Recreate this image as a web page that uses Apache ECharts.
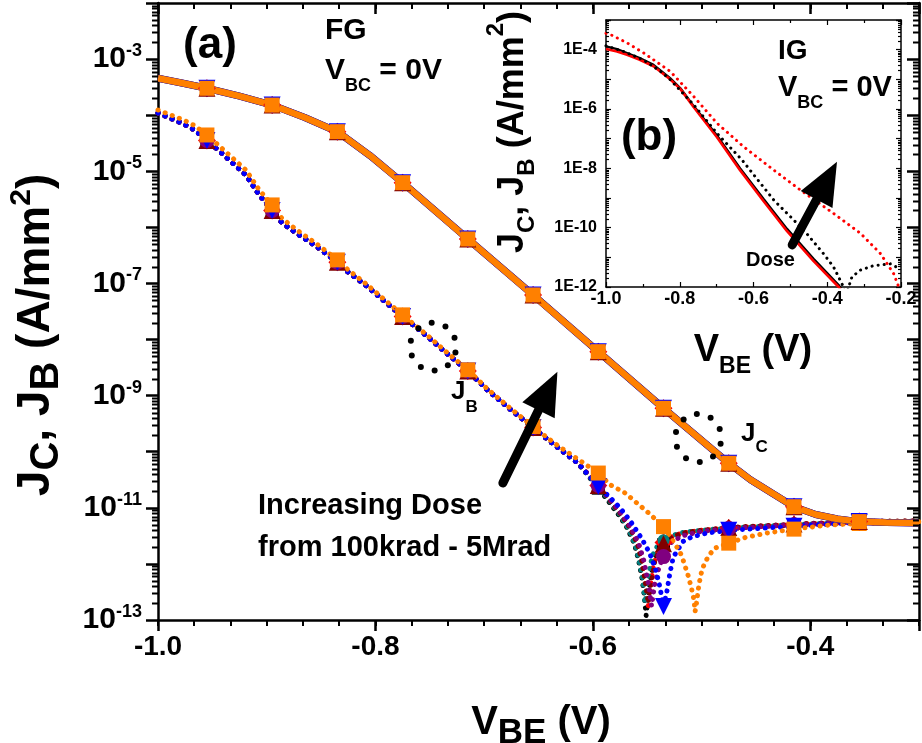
<!DOCTYPE html>
<html>
<head>
<meta charset="utf-8">
<script src="https://cdn.jsdelivr.net/npm/echarts@6/dist/echarts.min.js"></script>
<style>
html, body { margin: 0; padding: 0; background: #fff; }
#chart { width: 922px; height: 743px; }
</style>
</head>
<body>
<div id="chart"></div>
<script>
const FONT = "'Liberation Sans', Arial, Helvetica, sans-serif";

// ---------- Panel (a): forward Gummel, V_BC = 0 V ----------
// V_BE positions that carry a symbol
const markerVbe = [-0.955, -0.895, -0.835, -0.775, -0.715, -0.655, -0.595, -0.535, -0.475, -0.415, -0.355];

// Collector current density J_C, stored as log10(A/mm^2)
const jcVbe = [-1.0, -0.977, -0.955, -0.925, -0.895, -0.865, -0.835, -0.805, -0.775, -0.715, -0.655, -0.595,
  -0.535, -0.475, -0.455, -0.435, -0.415, -0.395, -0.375, -0.355, -0.33, -0.3];
const jcLog = [-3.342, -3.43, -3.52, -3.66, -3.82, -4.04, -4.294, -4.72, -5.203, -6.207, -7.205, -8.216,
  -9.225, -10.205, -10.5, -10.74, -10.98, -11.12, -11.2, -11.246, -11.26, -11.27];

// Base current density J_B, common high-bias part (log10 A/mm^2)
const jbVbeUpper = [-1.0, -0.989, -0.977, -0.966, -0.955, -0.943, -0.931, -0.919, -0.907, -0.895, -0.886, -0.870,
  -0.855, -0.835, -0.825, -0.809, -0.794, -0.775, -0.752, -0.736, -0.715, -0.697, -0.675, -0.655, -0.636, -0.614];
const jbLogUpperTop = [-3.907, -3.99, -4.08, -4.19, -4.353, -4.56, -4.77, -4.98, -5.33, -5.60, -5.84, -6.08,
  -6.28, -6.58, -6.76, -7.0, -7.25, -7.56, -7.93, -8.2, -8.54, -8.88, -9.24, -9.55, -9.84, -10.13];
const jbLogUpperUnder = [-3.96, -4.05, -4.15, -4.27, -4.45, -4.65, -4.86, -5.07, -5.42, -5.70, -5.92, -6.14,
  -6.33, -6.62, -6.8, -7.03, -7.28, -7.59, -7.95, -8.22, -8.56, -8.9, -9.26, -9.57, -9.87, -10.2];

// Base current density, low-bias part for each dose (log10 A/mm^2)
const jbTailVbeBlack = [-0.595, -0.585, -0.575, -0.569, -0.562, -0.558, -0.555, -0.553, -0.551, -0.549, -0.546, -0.543,
  -0.538, -0.535, -0.525, -0.515, -0.500, -0.475, -0.445, -0.415, -0.385, -0.355, -0.300];
const jbTailLogBlack = [-10.65, -10.90, -11.16, -11.34, -11.63, -11.93, -12.23, -12.52, -12.92, -12.55, -12.15, -11.88,
  -11.72, -11.66, -11.52, -11.46, -11.41, -11.37, -11.33, -11.31, -11.28, -11.26, -11.25];

const jbTailVbeTeal = [-0.595, -0.585, -0.575, -0.567, -0.561, -0.557, -0.554, -0.552, -0.550, -0.547, -0.544, -0.540,
  -0.535, -0.528, -0.518, -0.500, -0.475, -0.415, -0.355, -0.300];
const jbTailLogTeal = [-10.63, -10.87, -11.13, -11.38, -11.66, -11.98, -12.30, -12.70, -12.40, -12.00, -11.80, -11.66,
  -11.58, -11.50, -11.44, -11.40, -11.36, -11.30, -11.25, -11.24];

const jbTailVbeRed = [-0.595, -0.585, -0.575, -0.566, -0.559, -0.555, -0.552, -0.549, -0.547, -0.544, -0.540, -0.535,
  -0.528, -0.518, -0.500, -0.475, -0.415, -0.355, -0.300];
const jbTailLogRed = [-10.60, -10.84, -11.10, -11.36, -11.66, -11.97, -12.35, -12.75, -12.40, -12.00, -11.75, -11.62,
  -11.52, -11.45, -11.40, -11.36, -11.30, -11.25, -11.24];

const jbTailVbeMaroon = [-0.595, -0.585, -0.575, -0.566, -0.559, -0.555, -0.552, -0.549, -0.546, -0.543, -0.539, -0.535,
  -0.528, -0.518, -0.500, -0.475, -0.415, -0.355, -0.300];
const jbTailLogMaroon = [-10.60, -10.85, -11.10, -11.35, -11.64, -11.95, -12.30, -12.70, -12.30, -11.95, -11.75, -11.64,
  -11.53, -11.45, -11.40, -11.35, -11.29, -11.24, -11.23];

const jbTailVbePurple = [-0.595, -0.585, -0.575, -0.566, -0.558, -0.553, -0.549, -0.546, -0.543, -0.539, -0.535, -0.528,
  -0.518, -0.500, -0.475, -0.415, -0.355, -0.300];
const jbTailLogPurple = [-10.60, -10.83, -11.07, -11.32, -11.62, -11.95, -12.35, -12.75, -12.35, -12.05, -11.87, -11.62,
  -11.50, -11.42, -11.37, -11.30, -11.25, -11.24];

const jbTailVbeBlue = [-0.595, -0.585, -0.575, -0.565, -0.555, -0.548, -0.543, -0.539, -0.535, -0.532, -0.529, -0.526,
  -0.521, -0.517, -0.509, -0.495, -0.475, -0.415, -0.355, -0.300];
const jbTailLogBlue = [-10.62, -10.80, -11.00, -11.25, -11.55, -11.80, -12.05, -12.35, -12.76, -12.50, -12.15, -11.88,
  -11.72, -11.60, -11.52, -11.45, -11.40, -11.33, -11.26, -11.25];

const jbTailVbeOrange = [-0.595, -0.584, -0.570, -0.561, -0.550, -0.535, -0.526, -0.520, -0.517, -0.512, -0.509, -0.507,
  -0.506, -0.505, -0.503, -0.501, -0.499, -0.494, -0.488, -0.475, -0.460, -0.440, -0.415, -0.385, -0.355, -0.300];
const jbTailLogOrange = [-10.38, -10.59, -10.74, -10.89, -11.07, -11.335, -11.60, -11.78, -11.93, -12.23, -12.46, -12.64,
  -12.85, -12.75, -12.45, -12.22, -12.07, -11.87, -11.72, -11.63, -11.53, -11.45, -11.38, -11.31, -11.28, -11.25];

// ---------- Panel (b): inset, V_BC = 0 V (log10 A/mm^2) ----------
const insetVbeSolidBlack = [-1.0, -0.97, -0.943, -0.91, -0.871, -0.826, -0.798, -0.762, -0.699, -0.636, -0.573, -0.509, -0.437, -0.369, -0.355];
const insetLogSolidBlack = [-3.89, -3.98, -4.11, -4.27, -4.51, -4.96, -5.30, -5.90, -6.89, -8.00, -9.02, -10.04, -11.05, -11.93, -12.2];
const insetVbeSolidRed = [-1.0, -0.97, -0.943, -0.91, -0.871, -0.826, -0.798, -0.762, -0.699, -0.636, -0.573, -0.509, -0.437, -0.369, -0.355];
const insetLogSolidRed = [-3.98, -4.06, -4.17, -4.33, -4.56, -5.0, -5.33, -5.94, -6.95, -8.07, -9.1, -10.12, -11.13, -12.0, -12.25];
const insetVbeDotBlack = [-1.0, -0.95, -0.898, -0.85, -0.826, -0.762, -0.699, -0.631, -0.545, -0.491, -0.455, -0.410,
  -0.383, -0.365, -0.356, -0.350, -0.342, -0.333, -0.310, -0.274, -0.229, -0.202];
const insetLogDotBlack = [-3.87, -4.07, -4.35, -4.75, -5.01, -5.86, -6.82, -7.72, -9.07, -9.74, -10.21, -10.88,
  -11.32, -11.77, -12.0, -12.4, -12.0, -11.66, -11.43, -11.28, -11.22, -11.39];
const insetVbeDotRed = [-1.0, -0.988, -0.943, -0.898, -0.826, -0.762, -0.699, -0.627, -0.545, -0.473, -0.383, -0.310, -0.256, -0.220, -0.206, -0.200];
const insetLogDotRed = [-3.45, -3.49, -3.77, -4.11, -4.73, -5.58, -6.48, -7.27, -8.06, -8.73, -9.52, -10.19, -10.87, -11.55, -12.0, -12.4];

// Annotation anchors in data units: [V_BE, log10 J]
const mainArrow = [-0.6844, -10.622, -0.6326, -8.572];
const insetArrow = [-0.5002, -10.70, -0.3736, -7.775];
const ringJB = [-0.7469, -8.127];
const ringJC = [-0.503, -9.754];

// ---------- helpers ----------
const toPairs = (v, logs) => v.map((x, i) => [x, Math.pow(10, logs[i])]);
const isMarker = x => markerVbe.some(m => Math.abs(m - x) < 1e-6);

const doses = [
  { color: '#000000', symbol: 'rect',     size: 13, rotate: 0,   jcWidth: 5.5, upper: jbLogUpperUnder, tv: jbTailVbeBlack,  tl: jbTailLogBlack },
  { color: '#ff0000', symbol: 'diamond',  size: 18, rotate: 0,   jcWidth: 5.5, upper: jbLogUpperUnder, tv: jbTailVbeRed,    tl: jbTailLogRed },
  { color: '#008080', symbol: 'circle',   size: 12, rotate: 0,   jcWidth: 5.5, upper: jbLogUpperUnder, tv: jbTailVbeTeal,   tl: jbTailLogTeal },
  { color: '#800000', symbol: 'triangle', size: 17, rotate: 0,   jcWidth: 5.5, upper: jbLogUpperUnder, tv: jbTailVbeMaroon, tl: jbTailLogMaroon },
  { color: '#800080', symbol: 'circle',   size: 15, rotate: 0,   jcWidth: 7,   upper: jbLogUpperUnder, tv: jbTailVbePurple, tl: jbTailLogPurple },
  { color: '#1a1aa0', symbol: 'triangle', size: 17, rotate: 180, jcWidth: 7,   upper: jbLogUpperUnder, tv: jbTailVbeBlue,   tl: jbTailLogBlue },
  { color: '#ff8000', symbol: 'rect',     size: 15, rotate: 0,   jcWidth: 6.5, upper: jbLogUpperTop,   tv: jbTailVbeOrange, tl: jbTailLogOrange }
];
// J_B dots/markers of the blue dose use pure blue; its J_C line is drawn in a darker navy
const jbColorOverride = { 5: '#0000ff' };

const series = [];

// J_B: dotted curves with symbols
doses.forEach((d, i) => {
  const c = jbColorOverride[i] || d.color;
  series.push({
    type: 'line', xAxisIndex: 0, yAxisIndex: 0, z: 2,
    data: toPairs(jbVbeUpper.concat(d.tv), d.upper.concat(d.tl)),
    lineStyle: { color: c, width: 5, type: [0.1, 7.5], cap: 'round' },
    itemStyle: { color: c },
    symbol: v => (isMarker(v[0]) ? d.symbol : 'none'),
    symbolSize: d.size, symbolRotate: d.rotate, showAllSymbol: true,
    silent: true, animation: false
  });
});
// J_C: solid curves with symbols
doses.forEach((d, i) => {
  const c = jbColorOverride[i] || d.color;
  series.push({
    type: 'line', xAxisIndex: 0, yAxisIndex: 0, z: 3,
    data: toPairs(jcVbe, jcLog),
    lineStyle: { color: d.color, width: d.jcWidth },
    itemStyle: { color: c },
    symbol: v => (isMarker(v[0]) ? d.symbol : 'none'),
    symbolSize: d.size, symbolRotate: d.rotate, showAllSymbol: true,
    silent: true, animation: false
  });
});

// Inset curves
series.push(
  { type: 'line', xAxisIndex: 4, yAxisIndex: 2, symbol: 'none', silent: true, animation: false,
    data: toPairs(insetVbeSolidBlack, insetLogSolidBlack), lineStyle: { color: '#000', width: 2.2 } },
  { type: 'line', xAxisIndex: 4, yAxisIndex: 2, symbol: 'none', silent: true, animation: false,
    data: toPairs(insetVbeSolidRed, insetLogSolidRed), lineStyle: { color: '#ff0000', width: 2.6 } },
  { type: 'line', xAxisIndex: 4, yAxisIndex: 2, symbol: 'none', silent: true, animation: false,
    data: toPairs(insetVbeDotBlack, insetLogDotBlack), lineStyle: { color: '#000', width: 3, type: [0.1, 6], cap: 'round' } },
  { type: 'line', xAxisIndex: 4, yAxisIndex: 2, symbol: 'none', silent: true, animation: false,
    data: toPairs(insetVbeDotRed, insetLogDotRed), lineStyle: { color: '#ff0000', width: 3, type: [0.1, 6], cap: 'round' } }
);

// Logarithmic minor ticks (2..9 x 10^e) drawn against the y scales
function logMinorTicks(xIdx, yIdx, eFrom, eTo, xRef, side, len, lw) {
  const data = [];
  for (let e = eFrom; e < eTo; e++) for (let m = 2; m <= 9; m++) data.push([xRef, m * Math.pow(10, e)]);
  return {
    type: 'custom', xAxisIndex: xIdx, yAxisIndex: yIdx, silent: true, animation: false, clip: false, z: 6,
    data: data,
    renderItem: (params, api) => {
      const cs = params.coordSys;
      const y = Math.round(api.coord([api.value(0), api.value(1)])[1]) + 0.5;
      let x1, x2;
      if (side === 'leftOut') { x1 = cs.x - len; x2 = cs.x; }
      else if (side === 'leftIn') { x1 = cs.x; x2 = cs.x + len; }
      else { x1 = cs.x + cs.width - len; x2 = cs.x + cs.width; }
      return { type: 'line', shape: { x1, y1: y, x2, y2: y }, style: { stroke: '#000', lineWidth: lw } };
    }
  };
}
series.push(logMinorTicks(0, 0, -13, -2, -1.0, 'leftOut', 6, 2));
series.push(logMinorTicks(0, 0, -13, -2, -1.0, 'rightIn', 6, 2));
series.push(logMinorTicks(4, 2, -12, -3, -1.0, 'leftIn', 3, 1.2));
series.push(logMinorTicks(4, 2, -12, -3, -1.0, 'rightIn', 3, 1.2));

// Arrows (shaft + head) placed in data units
function arrowSeries(xIdx, yIdx, a) {
  return {
    type: 'custom', xAxisIndex: xIdx, yAxisIndex: yIdx, silent: true, animation: false, clip: false, z: 8,
    data: [[a[0], Math.pow(10, a[1]), a[2], Math.pow(10, a[3])]],
    encode: { x: [0, 2], y: [1, 3] },
    renderItem: (params, api) => {
      const t = api.coord([api.value(0), api.value(1)]);
      const p = api.coord([api.value(2), api.value(3)]);
      const dx = p[0] - t[0], dy = p[1] - t[1], len = Math.hypot(dx, dy);
      const ux = dx / len, uy = dy / len, nx = -uy, ny = ux;
      const L = 43, H = 18;
      const bx = p[0] - ux * L, by = p[1] - uy * L;
      return {
        type: 'group', children: [
          { type: 'line', shape: { x1: t[0] + ux * 4, y1: t[1] + uy * 4, x2: bx + ux * 3, y2: by + uy * 3 },
            style: { stroke: '#000', lineWidth: 9, lineCap: 'round' } },
          { type: 'polygon', shape: { points: [[bx + nx * H, by + ny * H], [p[0], p[1]], [bx - nx * H, by - ny * H]] },
            style: { fill: '#000' } }
        ]
      };
    }
  };
}
series.push(arrowSeries(0, 0, mainArrow));
series.push(arrowSeries(4, 2, insetArrow));

// Dotted rings marking the J_B and J_C curve families
function ringSeries(c) {
  return {
    type: 'custom', xAxisIndex: 0, yAxisIndex: 0, silent: true, animation: false, clip: false, z: 8,
    data: [[c[0], Math.pow(10, c[1])]],
    renderItem: (params, api) => {
      const o = api.coord([api.value(0), api.value(1)]);
      const children = [];
      for (let k = 0; k < 10; k++) {
        const ang = 0.25 + k * Math.PI * 2 / 10;
        children.push({ type: 'circle', shape: { cx: o[0] + 23 * Math.cos(ang), cy: o[1] + 24 * Math.sin(ang), r: 3 },
          style: { fill: '#000' } });
      }
      return { type: 'group', children };
    }
  };
}
series.push(ringSeries(ringJB));
series.push(ringSeries(ringJC));

// ---------- axes ----------
const noSplit = { show: false };
const lineBlack = w => ({ show: true, onZero: false, lineStyle: { color: '#000', width: w } });
const boldLabel = (size, extra) => Object.assign({ color: '#000', fontFamily: FONT, fontWeight: 'bold', fontSize: size }, extra);
const onFifth = v => Math.abs(v * 5 - Math.round(v * 5)) < 1e-6;

const xAxis = [
  // main, bottom: major ticks + labels
  { gridIndex: 0, type: 'value', position: 'bottom', min: -1.0, max: -0.3, interval: 0.2,
    axisLine: lineBlack(2.5), splitLine: noSplit,
    axisTick: { show: true, length: 11, lineStyle: { color: '#000', width: 2.5 } },
    axisLabel: boldLabel(28, { margin: 13, formatter: v => (onFifth(v) ? v.toFixed(1) : '') }) },
  // main, bottom: minor ticks
  { gridIndex: 0, type: 'value', position: 'bottom', min: -1.0, max: -0.3, interval: 1 / 30,
    axisLine: { show: false, onZero: false }, splitLine: noSplit, axisLabel: { show: false },
    axisTick: { show: true, length: 6, lineStyle: { color: '#000', width: 2 } } },
  // main, top mirror
  { gridIndex: 0, type: 'value', position: 'top', min: -1.0, max: -0.3, interval: 0.2,
    axisLine: lineBlack(2.5), splitLine: noSplit, axisLabel: { show: false },
    axisTick: { show: true, inside: true, length: 11, lineStyle: { color: '#000', width: 2.5 } } },
  { gridIndex: 0, type: 'value', position: 'top', min: -1.0, max: -0.3, interval: 1 / 30,
    axisLine: { show: false, onZero: false }, splitLine: noSplit, axisLabel: { show: false },
    axisTick: { show: true, inside: true, length: 6, lineStyle: { color: '#000', width: 2 } } },
  // inset, bottom
  { gridIndex: 1, type: 'value', position: 'bottom', min: -1.0, max: -0.2, interval: 0.2,
    axisLine: lineBlack(1.5), splitLine: noSplit,
    axisTick: { show: true, inside: true, length: 5, lineStyle: { color: '#000', width: 1.2 } },
    minorTick: { show: true, splitNumber: 2, length: 3, lineStyle: { color: '#000', width: 1.2 } },
    axisLabel: boldLabel(18, { margin: 3, formatter: v => v.toFixed(1) }) },
  // inset, top mirror
  { gridIndex: 1, type: 'value', position: 'top', min: -1.0, max: -0.2, interval: 0.2,
    axisLine: lineBlack(1.5), splitLine: noSplit, axisLabel: { show: false },
    axisTick: { show: true, inside: true, length: 5, lineStyle: { color: '#000', width: 1.2 } },
    minorTick: { show: true, splitNumber: 2, length: 3, lineStyle: { color: '#000', width: 1.2 } } }
];

const expOf = v => Math.round(Math.log10(v));
const yAxis = [
  { gridIndex: 0, type: 'log', logBase: 10, position: 'left', min: 1e-13, max: 1e-2, interval: 1, splitNumber: 11,
    axisLine: lineBlack(2.5), splitLine: noSplit,
    axisTick: { show: true, length: 12, lineStyle: { color: '#000', width: 2.5 } },
    axisLabel: {
      margin: 16, color: '#000',
      formatter: v => { const e = expOf(v); return (e % 2 !== 0) ? '{b|10}{s|' + e + '}' : ''; },
      rich: {
        b: { fontFamily: FONT, fontWeight: 'bold', fontSize: 30, lineHeight: 36, color: '#000' },
        s: { fontFamily: FONT, fontWeight: 'bold', fontSize: 18, lineHeight: 18, padding: [0, 0, 16, 0], color: '#000' }
      }
    } },
  { gridIndex: 0, type: 'log', logBase: 10, position: 'right', min: 1e-13, max: 1e-2, interval: 1, splitNumber: 11,
    axisLine: lineBlack(2.5), splitLine: noSplit, axisLabel: { show: false },
    axisTick: { show: true, inside: true, length: 12, lineStyle: { color: '#000', width: 2.5 } } },
  { gridIndex: 1, type: 'log', logBase: 10, position: 'left', min: 1e-12, max: 1e-3, interval: 1, splitNumber: 9,
    axisLine: lineBlack(1.5), splitLine: noSplit,
    axisTick: { show: true, inside: true, length: 5, lineStyle: { color: '#000', width: 1.2 } },
    axisLabel: boldLabel(16, { margin: 9, formatter: v => { const e = expOf(v); return (e % 2 === 0) ? '1E' + e : ''; } }) },
  { gridIndex: 1, type: 'log', logBase: 10, position: 'right', min: 1e-12, max: 1e-3, interval: 1, splitNumber: 9,
    axisLine: lineBlack(1.5), splitLine: noSplit, axisLabel: { show: false },
    axisTick: { show: true, inside: true, length: 5, lineStyle: { color: '#000', width: 1.2 } } }
];

// ---------- text ----------
const tok = (size, extra) => Object.assign({ fontFamily: FONT, fontWeight: 'bold', fontSize: size, fill: '#000', color: '#000' }, extra);
const txt = (x, y, text, rich, align) => ({
  type: 'text', x, y, silent: true, z: 20,
  style: { text, fill: '#000', align: align || 'left', verticalAlign: 'middle', rich }
});

const graphic = [
  txt(210, 46, '{m|(a)}', { m: tok(44) }, 'center'),
  txt(325, 31, '{m|FG}', { m: tok(30) }),
  txt(325, 71, '{m|V}{s|BC}{m| = 0V}', { m: tok(30, { lineHeight: 50 }), s: tok(18, { lineHeight: 18, padding: [31, 0, 0, 0] }) }),
  txt(451, 392, '{m|J}{s|B}', { m: tok(26, { lineHeight: 48 }), s: tok(17, { lineHeight: 17, padding: [30, 0, 0, 0] }) }),
  txt(741, 434, '{m|J}{s|C}', { m: tok(26, { lineHeight: 48 }), s: tok(17, { lineHeight: 17, padding: [26, 0, 0, 0] }) }),
  txt(258, 506, '{m|Increasing Dose}', { m: tok(29) }),
  txt(258, 548, '{m|from 100krad - 5Mrad}', { m: tok(29) }),
  txt(778, 51, '{m|IG}', { m: tok(28) }),
  txt(778, 88, '{m|V}{s|BC}{m| = 0V}', { m: tok(29, { lineHeight: 50 }), s: tok(18, { lineHeight: 18, padding: [30, 0, 0, 0] }) }),
  txt(649, 138, '{m|(b)}', { m: tok(44) }, 'center'),
  txt(746, 260, '{m|Dose}', { m: tok(20) }),
  // axis titles
  txt(541, 723, '{m|V}{s|BE}{m| (V)}', { m: tok(40, { lineHeight: 58 }), s: tok(35, { lineHeight: 35, padding: [20, 0, 0, 0] }) }, 'center'),
  Object.assign(txt(36, 335, '{m|J}{s|C}{m|, J}{s|B}{m| (A/mm}{p|2}{m|)}',
    { m: tok(46, { lineHeight: 66 }), s: tok(40, { lineHeight: 40, padding: [22, 0, 0, 0] }),
      p: tok(30, { lineHeight: 30, padding: [0, 0, 28, 0] }) }, 'center'), { rotation: Math.PI / 2 }),
  txt(753, 351, '{m|V}{s|BE}{m| (V)}', { m: tok(38, { lineHeight: 58 }), s: tok(23, { lineHeight: 23, padding: [32, 0, 0, 0] }) }, 'center'),
  Object.assign(txt(513, 132, '{m|J}{s|C}{m|, J}{s|B}{m| (A/mm}{p|2}{m|)}',
    { m: tok(36, { lineHeight: 60 }), s: tok(24, { lineHeight: 24, padding: [28, 0, 0, 0] }),
      p: tok(24, { lineHeight: 24, padding: [0, 0, 33, 0] }) }, 'center'), { rotation: Math.PI / 2 })
];

const chart = echarts.init(document.getElementById('chart'), null, { renderer: 'canvas' });
chart.setOption({
  backgroundColor: '#ffffff',
  animation: false,
  grid: [
    { left: 158, top: 3, width: 765, height: 617 },
    { left: 606, top: 20, width: 295, height: 267, backgroundColor: '#fff', show: true, borderWidth: 0 }
  ],
  xAxis, yAxis, series, graphic
});
</script>
</body>
</html>
